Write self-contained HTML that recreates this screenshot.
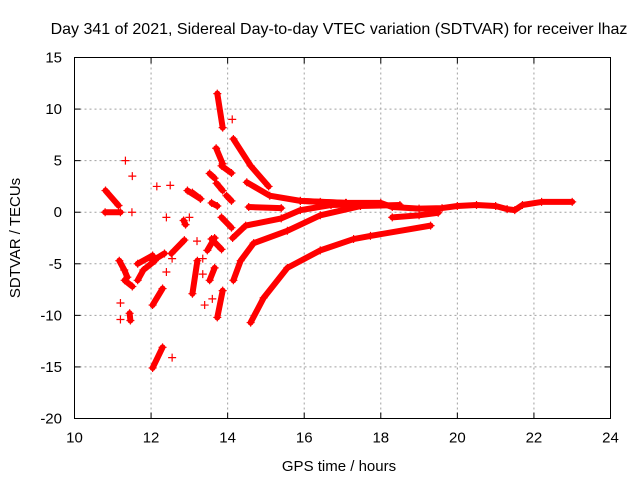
<!DOCTYPE html>
<html><head><meta charset="utf-8"><style>
html,body{margin:0;padding:0;background:#fff;}
svg{display:block;font-family:"Liberation Sans",sans-serif;}
</style></head><body>
<svg id="chart" width="640" height="480" viewBox="0 0 640 480">
<text x="339" y="34" font-size="16" text-anchor="middle" fill="#000">Day 341 of 2021, Sidereal Day-to-day VTEC variation (SDTVAR) for receiver lhaz</text>
<g id="grid"></g>
<g id="marks"></g>
<rect x="74.5" y="57.5" width="536" height="361" fill="none" stroke="#000" stroke-width="1"/>
<g id="ticks"></g>
<text x="339" y="471" font-size="15" text-anchor="middle">GPS time / hours</text>
<text transform="translate(20,238) rotate(-90)" font-size="15" text-anchor="middle">SDTVAR / TECUs</text>
</svg>
<script>
const xTicks = [10,12,14,16,18,20,22,24];
const yTicks = [15,10,5,0,-5,-10,-15,-20];
// tracks: times (hours) and values (TECU)
const trackT = [
 [10.81,11.15],[10.8,11.2],[11.17,11.3,11.38],[11.31,11.51],[11.44,11.46],
 [11.65,12.04],[11.65,11.8,12.1],[12.04,12.35],[12.04,12.3],[12.04,12.3],
 [12.53,12.87],[12.95,13.29],[12.85,12.9],[13.08,13.21],[13.47,13.66],[13.53,13.66],
 [13.73,13.87],[13.73,13.87],[13.7,13.87],[13.84,14.1],[13.71,13.87],[13.97,14.1],
 [13.53,13.66],[13.58,13.73],[13.84,14.1],[13.58,13.84],[13.08,13.29],
 [14.15,14.6,15.07],[14.5,15.1,15.9,17.1],[14.55,15.4],
 [14.13,14.47,15.4,15.9,16.7,18.0],
 [14.15,14.34,14.68,15.56,16.42,17.47,18.5],
 [14.6,14.94,15.56,16.42,17.29,17.73,19.3],
 [15.9,16.42,17.08,18.0,18.3,19.0,19.6,20.0,20.5,21.0,21.3,21.5,21.7,22.2,23.0],
 [18.3,19.0,19.5]
];
const trackV = [
 [2.1,0.65],[0.0,0.0],[-4.7,-5.6,-6.3],[-6.6,-7.2],[-9.8,-10.5],
 [-5.0,-4.2],[-6.6,-5.6,-4.7],[-4.7,-4.0],[-9.0,-7.4],[-15.1,-13.1],
 [-4.0,-2.7],[2.1,1.3],[-0.8,-1.2],[-7.9,-4.7],[-3.7,-2.5],[-6.6,-5.4],
 [-10.2,-7.6],[11.5,8.2],[6.2,4.7],[4.5,3.8],[2.8,2.1],[1.6,1.1],
 [3.75,3.3],[0.9,0.6],[-0.5,-1.5],[-2.6,-3.6],[1.9,1.3],
 [7.1,4.5,2.5],[2.9,1.6,1.1,0.9],[0.5,0.4],
 [-2.5,-1.3,-0.6,0.2,0.7,0.8],
 [-6.6,-4.7,-3.0,-1.8,-0.3,0.6,0.7],
 [-10.7,-8.3,-5.4,-3.7,-2.6,-2.3,-1.3],
 [1.1,1.0,0.9,0.9,0.5,0.35,0.4,0.6,0.7,0.6,0.3,0.2,0.7,1.0,1.0],
 [-0.5,-0.3,-0.05]
];
// isolated scatter points
const ptT = [11.33,11.51,11.5,12.15,12.5,12.55,11.2,11.2,12.55,13.0,13.35,12.4,13.35,13.6,13.2,14.12,13.4,12.4];
const ptV = [5.0,3.5,0.0,2.5,2.6,-14.1,-8.8,-10.4,-4.5,-0.5,-4.5,-0.5,-6.0,-8.4,-2.8,9.0,-9.0,-5.8];

const NS='http://www.w3.org/2000/svg';
const L=74.5,R=610.5,T=57.5,B=418.5;
const xS=t=>L+(t-10)/14*(R-L);
const yS=v=>B-(v+20)/35*(B-T);
const grid=document.getElementById('grid'),ticks=document.getElementById('ticks'),marks=document.getElementById('marks');
function mk(tag,at,parent){const e=document.createElementNS(NS,tag);for(const k in at)e.setAttribute(k,at[k]);parent.appendChild(e);return e;}
xTicks.forEach(t=>{
 const x=xS(t);
 if(t>10&&t<24){const g=mk('line',{x1:x,x2:x,y1:T,y2:B,stroke:'#a0a0a0','stroke-dasharray':'2,3'},grid);
 
 }
 mk('line',{x1:x,x2:x,y1:B,y2:B-6,stroke:'#000'},ticks);mk('line',{x1:x,x2:x,y1:T,y2:T+6,stroke:'#000'},ticks);
 const lb=mk('text',{x:x,y:B+24,'font-size':15,'text-anchor':'middle'},ticks);lb.textContent=t;
 
 
});
yTicks.forEach(v=>{
 const y=yS(v);
 if(v<15&&v>-20){const g=mk('line',{x1:L,x2:R,y1:y,y2:y,stroke:'#a0a0a0','stroke-dasharray':'2,3'},grid);
 
 }
 mk('line',{x1:L,x2:L+6,y1:y,y2:y,stroke:'#000'},ticks);mk('line',{x1:R,x2:R-6,y1:y,y2:y,stroke:'#000'},ticks);
 const lb=mk('text',{x:62,y:y+5,'font-size':15,'text-anchor':'end'},ticks);lb.textContent=v;
 
 
});
function plus(x,y){const p=mk('path',{d:`M${x-4},${y}h8M${x},${y-4}v8`,stroke:'#f00','stroke-width':1.2,fill:'none'},marks);
 
 }
trackT.forEach((ts,i)=>{
 const pts=ts.map((t,j)=>xS(t)+','+yS(trackV[i][j])).join(' ');
 const pl=mk('polyline',{points:pts,fill:'none',stroke:'#f00','stroke-width':6,'stroke-linejoin':'round','stroke-linecap':'round'},marks);
 
 
 ts.forEach((t,j)=>plus(xS(t),yS(trackV[i][j])));
});
ptT.forEach((t,i)=>plus(xS(t),yS(ptV[i])));
</script>
</body></html>
